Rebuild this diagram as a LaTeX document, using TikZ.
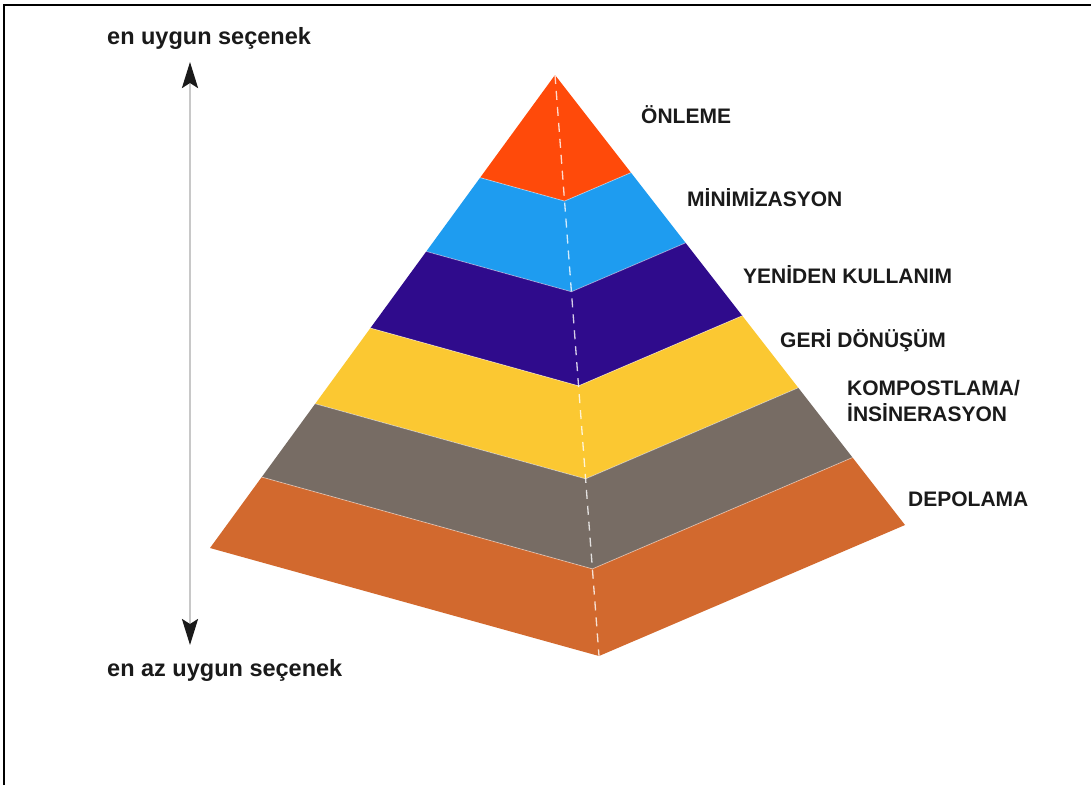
\documentclass[tikz,border=0pt]{standalone}
\usepackage{fontspec}
\setmainfont{Liberation Sans}
\usetikzlibrary{calc,arrows.meta}
\definecolor{cOrange}{HTML}{FF4A0A}
\definecolor{cBlue}{HTML}{1E9CF0}
\definecolor{cPurple}{HTML}{2F0B8C}
\definecolor{cYellow}{HTML}{FBC832}
\definecolor{cGray}{HTML}{776C64}
\definecolor{cBrown}{HTML}{D2692E}
\definecolor{txt}{HTML}{1A1A1A}
\definecolor{shaftgray}{HTML}{C8C8C8}
\begin{document}
\begin{tikzpicture}[x=1pt,y=-1pt,
  lbl/.style={font=\bfseries\fontsize{21}{26}\selectfont, text=txt, anchor=base west, inner sep=0pt, align=left},
  side/.style={font=\bfseries\fontsize{23.5}{27}\selectfont, text=txt, anchor=base west, inner sep=0pt},
  layerline/.style={draw=white, draw opacity=0.45, line width=0.8pt, line join=round},
  ridge/.style={draw=white, draw opacity=0.8, line width=1.3pt, dash pattern=on 9pt off 7pt},
  shaft/.style={draw=shaftgray, line width=2.6pt,
     {Stealth[length=26pt,width=16pt,inset=5pt,color=txt]}-{Stealth[length=26pt,width=16pt,inset=5pt,color=txt]}}]
\fill[white] (0,0) rectangle (1091,785);
\useasboundingbox (0,0) rectangle (1091,785);
\draw[line width=2pt] (4,785) -- (4,5) -- (1091,5);

% pyramid corners
\coordinate (A) at (555,75);
\coordinate (L6) at (210,548);
\coordinate (R6) at (905,525);
\coordinate (M6) at (599,656);
% layer boundaries
\coordinate (L1) at ($(A)!0.217!(L6)$);
\coordinate (R1) at ($(A)!0.217!(R6)$);
\coordinate (M1) at ($(A)!0.217!(M6)$);
\coordinate (L2) at ($(A)!0.373!(L6)$);
\coordinate (R2) at ($(A)!0.373!(R6)$);
\coordinate (M2) at ($(A)!0.373!(M6)$);
\coordinate (L3) at ($(A)!0.535!(L6)$);
\coordinate (R3) at ($(A)!0.535!(R6)$);
\coordinate (M3) at ($(A)!0.535!(M6)$);
\coordinate (L4) at ($(A)!0.695!(L6)$);
\coordinate (R4) at ($(A)!0.695!(R6)$);
\coordinate (M4) at ($(A)!0.695!(M6)$);
\coordinate (L5) at ($(A)!0.85!(L6)$);
\coordinate (R5) at ($(A)!0.85!(R6)$);
\coordinate (M5) at ($(A)!0.85!(M6)$);

\fill[cOrange] (A) -- (L1) -- (M1) -- (R1) -- cycle;
\fill[cBlue] (L1) -- (L2) -- (M2) -- (R2) -- (R1) -- (M1) -- cycle;
\fill[cPurple] (L2) -- (L3) -- (M3) -- (R3) -- (R2) -- (M2) -- cycle;
\fill[cYellow] (L3) -- (L4) -- (M4) -- (R4) -- (R3) -- (M3) -- cycle;
\fill[cGray] (L4) -- (L5) -- (M5) -- (R5) -- (R4) -- (M4) -- cycle;
\fill[cBrown] (L5) -- (L6) -- (M6) -- (R6) -- (R5) -- (M5) -- cycle;

\draw[layerline] (L1) -- (M1) -- (R1);
\draw[layerline] (L2) -- (M2) -- (R2);
\draw[layerline] (L3) -- (M3) -- (R3);
\draw[layerline] (L4) -- (M4) -- (R4);
\draw[layerline] (L5) -- (M5) -- (R5);
\draw[ridge] (A) -- (M6);

% labels
\node[lbl] (onleme) at (641,123) {ÖNLEME};
\node[lbl] (mini) at (687,206) {MİNİMİZASYON};
\node[lbl] (yeniden) at (743,283) {YENİDEN KULLANIM};
\node[lbl] (geri) at (780,347) {GERİ DÖNÜŞÜM};
\node[lbl] (kompost) at (847,421.5) {KOMPOSTLAMA/\\İNSİNERASYON};
\node[lbl] (depo) at (908,506.5) {DEPOLAMA};

% side scale
\node[side] (best) at (107,44.5) {en uygun seçenek};
\node[side] (worst) at (107,676.5) {en az uygun seçenek};
\coordinate (arrTop) at (190,62);
\coordinate (arrBot) at (190,645);
\draw[shaft] (arrBot) -- (arrTop);
\end{tikzpicture}
\end{document}
